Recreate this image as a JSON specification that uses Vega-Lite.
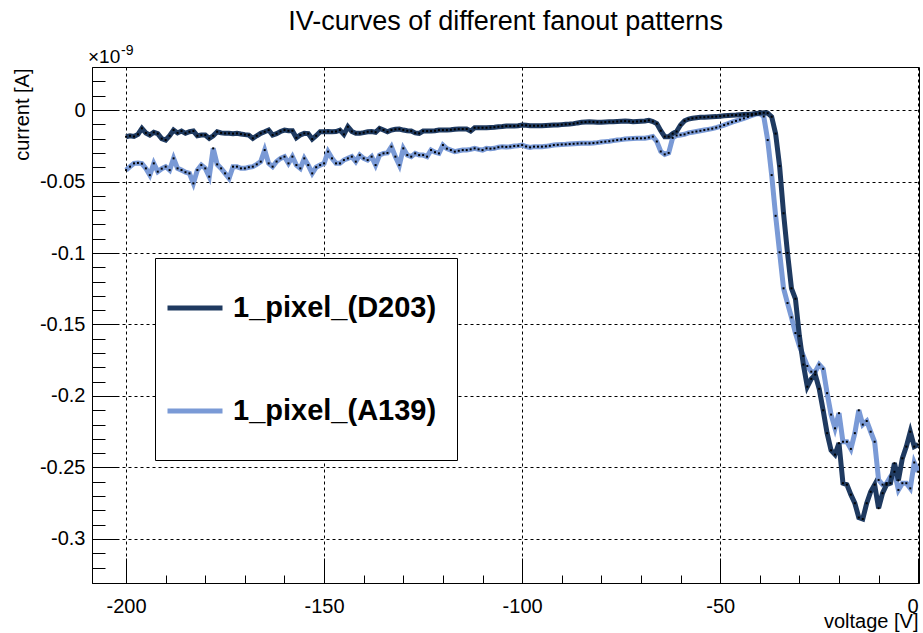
{
  "$schema": "https://vega.github.io/schema/vega-lite/v6.json",
  "width": 827,
  "height": 516,
  "autosize": {"type": "none"},
  "padding": {"left": 92, "top": 67, "right": 4, "bottom": 50},
  "background": "white",
  "config": {
    "view": {"stroke": "black", "strokeWidth": 1},
    "font": "Liberation Sans",
    "axis": {
      "titleFont": "Liberation Sans", "titleFontSize": 20, "titleFontWeight": "normal", "titleColor": "black",
      "labelFont": "Liberation Sans", "labelFontSize": 20, "labelColor": "black", "labelOverlap": false, "labelBound": false,
      "tickColor": "black", "tickWidth": 1, "domainColor": "black", "domainWidth": 1,
      "grid": true, "gridColor": "black", "gridDash": [3, 3], "gridWidth": 1
    }
  },
  "title": {"text": "IV-curves of different fanout patterns", "font": "Liberation Sans", "fontSize": 27, "fontWeight": "normal", "color": "black", "anchor": "middle", "offset": 8},
  "datasets": {
    "note": [{"label": "exponent"}]
  },
  "data": {"values": [
    {"v":-200,"D203":-0.0187,"A139":-0.0420},{"v":-199,"D203":-0.0180,"A139":-0.0396},{"v":-198,"D203":-0.0185,"A139":-0.0373},{"v":-197,"D203":-0.0170,"A139":-0.0370},{"v":-196,"D203":-0.0128,"A139":-0.0375},
    {"v":-195,"D203":-0.0160,"A139":-0.0408},{"v":-194,"D203":-0.0175,"A139":-0.0455},{"v":-193,"D203":-0.0156,"A139":-0.0373},{"v":-192,"D203":-0.0165,"A139":-0.0431},{"v":-191,"D203":-0.0200,"A139":-0.0410},
    {"v":-190,"D203":-0.0210,"A139":-0.0396},{"v":-189,"D203":-0.0180,"A139":-0.0420},{"v":-188,"D203":-0.0140,"A139":-0.0338},{"v":-187,"D203":-0.0160,"A139":-0.0408},{"v":-186,"D203":-0.0147,"A139":-0.0420},
    {"v":-185,"D203":-0.0163,"A139":-0.0435},{"v":-184,"D203":-0.0152,"A139":-0.0443},{"v":-183,"D203":-0.0147,"A139":-0.0513},{"v":-182,"D203":-0.0180,"A139":-0.0420},{"v":-181,"D203":-0.0175,"A139":-0.0385},
    {"v":-180,"D203":-0.0175,"A139":-0.0408},{"v":-179,"D203":-0.0198,"A139":-0.0466},{"v":-178,"D203":-0.0180,"A139":-0.0268},{"v":-177,"D203":-0.0152,"A139":-0.0380},{"v":-176,"D203":-0.0160,"A139":-0.0408},
    {"v":-175,"D203":-0.0163,"A139":-0.0443},{"v":-174,"D203":-0.0163,"A139":-0.0478},{"v":-173,"D203":-0.0165,"A139":-0.0396},{"v":-172,"D203":-0.0163,"A139":-0.0396},{"v":-171,"D203":-0.0168,"A139":-0.0408},
    {"v":-170,"D203":-0.0172,"A139":-0.0408},{"v":-169,"D203":-0.0175,"A139":-0.0400},{"v":-168,"D203":-0.0198,"A139":-0.0396},{"v":-167,"D203":-0.0180,"A139":-0.0380},{"v":-166,"D203":-0.0163,"A139":-0.0361},
    {"v":-165,"D203":-0.0152,"A139":-0.0280},{"v":-164,"D203":-0.0140,"A139":-0.0373},{"v":-163,"D203":-0.0175,"A139":-0.0396},{"v":-162,"D203":-0.0165,"A139":-0.0360},{"v":-161,"D203":-0.0150,"A139":-0.0338},
    {"v":-160,"D203":-0.0140,"A139":-0.0326},{"v":-159,"D203":-0.0145,"A139":-0.0373},{"v":-158,"D203":-0.0145,"A139":-0.0326},{"v":-157,"D203":-0.0194,"A139":-0.0385},{"v":-156,"D203":-0.0175,"A139":-0.0408},
    {"v":-155,"D203":-0.0163,"A139":-0.0338},{"v":-154,"D203":-0.0165,"A139":-0.0385},{"v":-153,"D203":-0.0203,"A139":-0.0443},{"v":-152,"D203":-0.0180,"A139":-0.0400},{"v":-151,"D203":-0.0152,"A139":-0.0385},
    {"v":-150,"D203":-0.0152,"A139":-0.0373},{"v":-149,"D203":-0.0150,"A139":-0.0291},{"v":-148,"D203":-0.0152,"A139":-0.0338},{"v":-147,"D203":-0.0150,"A139":-0.0373},{"v":-146,"D203":-0.0140,"A139":-0.0373},
    {"v":-145,"D203":-0.0170,"A139":-0.0350},{"v":-144,"D203":-0.0117,"A139":-0.0338},{"v":-143,"D203":-0.0150,"A139":-0.0326},{"v":-142,"D203":-0.0163,"A139":-0.0361},{"v":-141,"D203":-0.0163,"A139":-0.0315},
    {"v":-140,"D203":-0.0158,"A139":-0.0338},{"v":-139,"D203":-0.0152,"A139":-0.0350},{"v":-138,"D203":-0.0150,"A139":-0.0326},{"v":-137,"D203":-0.0155,"A139":-0.0385},{"v":-136,"D203":-0.0128,"A139":-0.0315},
    {"v":-135,"D203":-0.0140,"A139":-0.0303},{"v":-134,"D203":-0.0152,"A139":-0.0300},{"v":-133,"D203":-0.0140,"A139":-0.0256},{"v":-132,"D203":-0.0135,"A139":-0.0326},{"v":-131,"D203":-0.0133,"A139":-0.0385},
    {"v":-130,"D203":-0.0140,"A139":-0.0268},{"v":-129,"D203":-0.0145,"A139":-0.0315},{"v":-128,"D203":-0.0147,"A139":-0.0326},{"v":-127,"D203":-0.0160,"A139":-0.0303},{"v":-126,"D203":-0.0163,"A139":-0.0315},
    {"v":-125,"D203":-0.0147,"A139":-0.0315},{"v":-124,"D203":-0.0147,"A139":-0.0326},{"v":-123,"D203":-0.0147,"A139":-0.0280},{"v":-122,"D203":-0.0145,"A139":-0.0295},{"v":-121,"D203":-0.0140,"A139":-0.0303},
    {"v":-120,"D203":-0.0140,"A139":-0.0245},{"v":-119,"D203":-0.0140,"A139":-0.0270},{"v":-118,"D203":-0.0138,"A139":-0.0280},{"v":-117,"D203":-0.0135,"A139":-0.0291},{"v":-116,"D203":-0.0133,"A139":-0.0285},
    {"v":-115,"D203":-0.0133,"A139":-0.0280},{"v":-114,"D203":-0.0133,"A139":-0.0280},{"v":-113,"D203":-0.0147,"A139":-0.0275},{"v":-112,"D203":-0.0124,"A139":-0.0268},{"v":-111,"D203":-0.0124,"A139":-0.0275},
    {"v":-110,"D203":-0.0124,"A139":-0.0280},{"v":-109,"D203":-0.0124,"A139":-0.0268},{"v":-108,"D203":-0.0122,"A139":-0.0270},{"v":-107,"D203":-0.0120,"A139":-0.0268},{"v":-106,"D203":-0.0117,"A139":-0.0260},
    {"v":-105,"D203":-0.0115,"A139":-0.0256},{"v":-104,"D203":-0.0112,"A139":-0.0258},{"v":-103,"D203":-0.0112,"A139":-0.0256},{"v":-102,"D203":-0.0112,"A139":-0.0252},{"v":-101,"D203":-0.0110,"A139":-0.0250},
    {"v":-100,"D203":-0.0105,"A139":-0.0245},{"v":-99,"D203":-0.0107,"A139":-0.0255},{"v":-98,"D203":-0.0110,"A139":-0.0261},{"v":-97,"D203":-0.0110,"A139":-0.0256},{"v":-96,"D203":-0.0110,"A139":-0.0256},
    {"v":-95,"D203":-0.0110,"A139":-0.0256},{"v":-94,"D203":-0.0108,"A139":-0.0254},{"v":-93,"D203":-0.0106,"A139":-0.0250},{"v":-92,"D203":-0.0105,"A139":-0.0245},{"v":-91,"D203":-0.0104,"A139":-0.0243},
    {"v":-90,"D203":-0.0102,"A139":-0.0241},{"v":-89,"D203":-0.0100,"A139":-0.0240},{"v":-88,"D203":-0.0098,"A139":-0.0238},{"v":-87,"D203":-0.0095,"A139":-0.0236},{"v":-86,"D203":-0.0090,"A139":-0.0234},
    {"v":-85,"D203":-0.0086,"A139":-0.0233},{"v":-84,"D203":-0.0084,"A139":-0.0233},{"v":-83,"D203":-0.0082,"A139":-0.0233},{"v":-82,"D203":-0.0083,"A139":-0.0231},{"v":-81,"D203":-0.0085,"A139":-0.0228},
    {"v":-80,"D203":-0.0086,"A139":-0.0224},{"v":-79,"D203":-0.0084,"A139":-0.0221},{"v":-78,"D203":-0.0082,"A139":-0.0218},{"v":-77,"D203":-0.0082,"A139":-0.0214},{"v":-76,"D203":-0.0080,"A139":-0.0210},
    {"v":-75,"D203":-0.0078,"A139":-0.0207},{"v":-74,"D203":-0.0077,"A139":-0.0203},{"v":-73,"D203":-0.0079,"A139":-0.0201},{"v":-72,"D203":-0.0082,"A139":-0.0199},{"v":-71,"D203":-0.0080,"A139":-0.0198},
    {"v":-70,"D203":-0.0078,"A139":-0.0198},{"v":-69,"D203":-0.0077,"A139":-0.0197},{"v":-68,"D203":-0.0072,"A139":-0.0192},{"v":-67,"D203":-0.0080,"A139":-0.0186},{"v":-66,"D203":-0.0095,"A139":-0.0220},
    {"v":-65,"D203":-0.0145,"A139":-0.0290},{"v":-64,"D203":-0.0186,"A139":-0.0310},{"v":-63,"D203":-0.0186,"A139":-0.0300},{"v":-62,"D203":-0.0165,"A139":-0.0195},{"v":-61,"D203":-0.0150,"A139":-0.0178},
    {"v":-60,"D203":-0.0105,"A139":-0.0174},{"v":-59,"D203":-0.0075,"A139":-0.0170},{"v":-58,"D203":-0.0063,"A139":-0.0160},{"v":-57,"D203":-0.0058,"A139":-0.0155},{"v":-56,"D203":-0.0054,"A139":-0.0150},
    {"v":-55,"D203":-0.0051,"A139":-0.0145},{"v":-54,"D203":-0.0050,"A139":-0.0140},{"v":-53,"D203":-0.0048,"A139":-0.0135},{"v":-52,"D203":-0.0047,"A139":-0.0130},{"v":-51,"D203":-0.0046,"A139":-0.0123},
    {"v":-50,"D203":-0.0043,"A139":-0.0115},{"v":-49,"D203":-0.0040,"A139":-0.0105},{"v":-48,"D203":-0.0038,"A139":-0.0095},{"v":-47,"D203":-0.0036,"A139":-0.0085},{"v":-46,"D203":-0.0035,"A139":-0.0076},
    {"v":-45,"D203":-0.0033,"A139":-0.0067},{"v":-44,"D203":-0.0031,"A139":-0.0058},{"v":-43,"D203":-0.0029,"A139":-0.0048},{"v":-42,"D203":-0.0028,"A139":-0.0038},{"v":-41,"D203":-0.0025,"A139":-0.0028},
    {"v":-40,"D203":-0.0022,"A139":-0.0024},{"v":-39,"D203":-0.0019,"A139":-0.0045},{"v":-38,"D203":-0.0022,"A139":-0.0210},{"v":-37,"D203":-0.0047,"A139":-0.0455},{"v":-36,"D203":-0.0165,"A139":-0.0740},
    {"v":-35,"D203":-0.0392,"A139":-0.0995},{"v":-34,"D203":-0.0722,"A139":-0.1247},{"v":-33,"D203":-0.1000,"A139":-0.1350},{"v":-32,"D203":-0.1247,"A139":-0.1450},{"v":-31,"D203":-0.1320,"A139":-0.1560},
    {"v":-30,"D203":-0.1580,"A139":-0.1650},{"v":-29,"D203":-0.1780,"A139":-0.1720},{"v":-28,"D203":-0.1935,"A139":-0.1790},{"v":-27,"D203":-0.1880,"A139":-0.1830},{"v":-26,"D203":-0.1850,"A139":-0.1830},
    {"v":-25,"D203":-0.1950,"A139":-0.1780},{"v":-24,"D203":-0.2100,"A139":-0.1810},{"v":-23,"D203":-0.2260,"A139":-0.1980},{"v":-22,"D203":-0.2380,"A139":-0.2130},{"v":-21,"D203":-0.2410,"A139":-0.2226},
    {"v":-20,"D203":-0.2330,"A139":-0.2120},{"v":-19,"D203":-0.2610,"A139":-0.2320},{"v":-18,"D203":-0.2620,"A139":-0.2320},{"v":-17,"D203":-0.2690,"A139":-0.2370},{"v":-16,"D203":-0.2750,"A139":-0.2260},
    {"v":-15,"D203":-0.2850,"A139":-0.2100},{"v":-14,"D203":-0.2860,"A139":-0.2200},{"v":-13,"D203":-0.2750,"A139":-0.2175},{"v":-12,"D203":-0.2670,"A139":-0.2250},{"v":-11,"D203":-0.2620,"A139":-0.2320},
    {"v":-10,"D203":-0.2785,"A139":-0.2587},{"v":-9,"D203":-0.2680,"A139":-0.2620},{"v":-8,"D203":-0.2620,"A139":-0.2610},{"v":-7,"D203":-0.2610,"A139":-0.2564},{"v":-6,"D203":-0.2470,"A139":-0.2530},
    {"v":-5,"D203":-0.2590,"A139":-0.2657},{"v":-4,"D203":-0.2436,"A139":-0.2610},{"v":-3,"D203":-0.2354,"A139":-0.2610},{"v":-2,"D203":-0.2250,"A139":-0.2646},{"v":-1,"D203":-0.2354,"A139":-0.2465},
    {"v":0,"D203":-0.2340,"A139":-0.2530}
  ]},
  "layer": [
    {
      "transform": [{"fold": ["A139", "D203"], "as": ["s", "i"]}],
      "mark": {"type": "line", "strokeWidth": 5, "clip": true},
      "encoding": {
        "x": {"field": "v", "type": "quantitative", "scale": {"domain": [-208.6, 0.2], "nice": false, "zero": false},
          "axis": {"title": "voltage [V]", "titleAlign": "right", "titleBaseline": "alphabetic", "titleX": 826, "titleY": 44, "titleAngle": 0,
            "values": [-200,-190,-180,-170,-160,-150,-140,-130,-120,-110,-100,-90,-80,-70,-60,-50,-40,-30,-20,-10,0],
            "labelExpr": "datum.value % 50 == 0 ? toString(datum.value) : ''", "labelPadding": 38.5, "labelFlush": 4,
            "tickSize": {"condition": {"test": "datum.value % 50 == 0", "value": -25}, "value": -8},
            "gridOpacity": {"condition": {"test": "datum.value % 50 == 0", "value": 1}, "value": 0}}},
        "y": {"field": "i", "type": "quantitative", "scale": {"domain": [-0.3308, 0.0301], "nice": false, "zero": false},
          "axis": {"title": "current [A]", "titleAngle": -90, "titleAlign": "right", "titleBaseline": "alphabetic", "titleX": -64, "titleY": 1,
            "values": [0.02,0.01,0,-0.01,-0.02,-0.03,-0.04,-0.05,-0.06,-0.07,-0.08,-0.09,-0.1,-0.11,-0.12,-0.13,-0.14,-0.15,-0.16,-0.17,-0.18,-0.19,-0.2,-0.21,-0.22,-0.23,-0.24,-0.25,-0.26,-0.27,-0.28,-0.29,-0.3,-0.31,-0.32],
            "labelExpr": "abs(round(datum.value*100)) % 5 == 0 ? toString(round(datum.value*100)/100) : ''", "labelPadding": 32, "labelFlush": false,
            "tickSize": {"condition": {"test": "abs(round(datum.value*100)) % 5 == 0", "value": -25}, "value": -13},
            "gridOpacity": {"condition": {"test": "abs(round(datum.value*100)) % 5 == 0", "value": 1}, "value": 0}}},
        "color": {"field": "s", "type": "nominal",
          "scale": {"domain": ["D203", "A139"], "range": ["#1f3a60", "#7a9ad6"]},
          "legend": {
            "orient": "none", "legendX": 63, "legendY": 191, "title": null,
            "strokeColor": "black", "fillColor": "white", "padding": 20,
            "symbolType": "M-1,0H1M0,0.69", "symbolSize": 3025, "symbolStrokeWidth": 5, "symbolOffset": -10,
            "labelFont": "Liberation Sans", "labelFontSize": 29, "labelFontWeight": "bold", "labelColor": "black",
            "labelOffset": 8, "labelLimit": 600, "rowPadding": 44,
            "labelExpr": "'1_pixel_(' + datum.label + ')'"
          }}
      }
    },
    {
      "transform": [{"fold": ["A139", "D203"], "as": ["s", "i"]}],
      "mark": {"type": "square", "size": 4, "color": "black", "opacity": 1, "clip": true},
      "encoding": {
        "x": {"field": "v", "type": "quantitative", "scale": {"domain": [-208.6, 0.2], "nice": false, "zero": false},
          "axis": {"title": "voltage [V]", "titleAlign": "right", "titleBaseline": "alphabetic", "titleX": 826, "titleY": 44, "titleAngle": 0,
            "values": [-200,-190,-180,-170,-160,-150,-140,-130,-120,-110,-100,-90,-80,-70,-60,-50,-40,-30,-20,-10,0],
            "labelExpr": "datum.value % 50 == 0 ? toString(datum.value) : ''", "labelPadding": 38.5, "labelFlush": 4,
            "tickSize": {"condition": {"test": "datum.value % 50 == 0", "value": -25}, "value": -8},
            "gridOpacity": {"condition": {"test": "datum.value % 50 == 0", "value": 1}, "value": 0}}},
        "y": {"field": "i", "type": "quantitative", "scale": {"domain": [-0.3308, 0.0301], "nice": false, "zero": false},
          "axis": {"title": "current [A]", "titleAngle": -90, "titleAlign": "right", "titleBaseline": "alphabetic", "titleX": -64, "titleY": 1,
            "values": [0.02,0.01,0,-0.01,-0.02,-0.03,-0.04,-0.05,-0.06,-0.07,-0.08,-0.09,-0.1,-0.11,-0.12,-0.13,-0.14,-0.15,-0.16,-0.17,-0.18,-0.19,-0.2,-0.21,-0.22,-0.23,-0.24,-0.25,-0.26,-0.27,-0.28,-0.29,-0.3,-0.31,-0.32],
            "labelExpr": "abs(round(datum.value*100)) % 5 == 0 ? toString(round(datum.value*100)/100) : ''", "labelPadding": 32, "labelFlush": false,
            "tickSize": {"condition": {"test": "abs(round(datum.value*100)) % 5 == 0", "value": -25}, "value": -13},
            "gridOpacity": {"condition": {"test": "abs(round(datum.value*100)) % 5 == 0", "value": 1}, "value": 0}}}
      }
    },
    {
      "data": {"name": "note"},
      "mark": {"type": "text", "font": "Liberation Sans", "fontSize": 19, "fill": "black", "align": "left", "baseline": "alphabetic", "dx": -4, "dy": -4},
      "encoding": {
        "x": {"datum": -208.6, "type": "quantitative", "scale": {"domain": [-208.6, 0.2], "nice": false, "zero": false},
          "axis": {"title": "voltage [V]", "titleAlign": "right", "titleBaseline": "alphabetic", "titleX": 826, "titleY": 44, "titleAngle": 0,
            "values": [-200,-190,-180,-170,-160,-150,-140,-130,-120,-110,-100,-90,-80,-70,-60,-50,-40,-30,-20,-10,0],
            "labelExpr": "datum.value % 50 == 0 ? toString(datum.value) : ''", "labelPadding": 38.5, "labelFlush": 4,
            "tickSize": {"condition": {"test": "datum.value % 50 == 0", "value": -25}, "value": -8},
            "gridOpacity": {"condition": {"test": "datum.value % 50 == 0", "value": 1}, "value": 0}}},
        "y": {"datum": 0.0301, "type": "quantitative", "scale": {"domain": [-0.3308, 0.0301], "nice": false, "zero": false},
          "axis": {"title": "current [A]", "titleAngle": -90, "titleAlign": "right", "titleBaseline": "alphabetic", "titleX": -64, "titleY": 1,
            "values": [0.02,0.01,0,-0.01,-0.02,-0.03,-0.04,-0.05,-0.06,-0.07,-0.08,-0.09,-0.1,-0.11,-0.12,-0.13,-0.14,-0.15,-0.16,-0.17,-0.18,-0.19,-0.2,-0.21,-0.22,-0.23,-0.24,-0.25,-0.26,-0.27,-0.28,-0.29,-0.3,-0.31,-0.32],
            "labelExpr": "abs(round(datum.value*100)) % 5 == 0 ? toString(round(datum.value*100)/100) : ''", "labelPadding": 32, "labelFlush": false,
            "tickSize": {"condition": {"test": "abs(round(datum.value*100)) % 5 == 0", "value": -25}, "value": -13},
            "gridOpacity": {"condition": {"test": "abs(round(datum.value*100)) % 5 == 0", "value": 1}, "value": 0}}},
        "text": {"value": "×10"}
      }
    },
    {
      "data": {"name": "note"},
      "mark": {"type": "text", "font": "Liberation Sans", "fontSize": 14, "fill": "black", "align": "left", "baseline": "alphabetic", "dx": 29, "dy": -12},
      "encoding": {
        "x": {"datum": -208.6, "type": "quantitative", "scale": {"domain": [-208.6, 0.2], "nice": false, "zero": false},
          "axis": {"title": "voltage [V]", "titleAlign": "right", "titleBaseline": "alphabetic", "titleX": 826, "titleY": 44, "titleAngle": 0,
            "values": [-200,-190,-180,-170,-160,-150,-140,-130,-120,-110,-100,-90,-80,-70,-60,-50,-40,-30,-20,-10,0],
            "labelExpr": "datum.value % 50 == 0 ? toString(datum.value) : ''", "labelPadding": 38.5, "labelFlush": 4,
            "tickSize": {"condition": {"test": "datum.value % 50 == 0", "value": -25}, "value": -8},
            "gridOpacity": {"condition": {"test": "datum.value % 50 == 0", "value": 1}, "value": 0}}},
        "y": {"datum": 0.0301, "type": "quantitative", "scale": {"domain": [-0.3308, 0.0301], "nice": false, "zero": false},
          "axis": {"title": "current [A]", "titleAngle": -90, "titleAlign": "right", "titleBaseline": "alphabetic", "titleX": -64, "titleY": 1,
            "values": [0.02,0.01,0,-0.01,-0.02,-0.03,-0.04,-0.05,-0.06,-0.07,-0.08,-0.09,-0.1,-0.11,-0.12,-0.13,-0.14,-0.15,-0.16,-0.17,-0.18,-0.19,-0.2,-0.21,-0.22,-0.23,-0.24,-0.25,-0.26,-0.27,-0.28,-0.29,-0.3,-0.31,-0.32],
            "labelExpr": "abs(round(datum.value*100)) % 5 == 0 ? toString(round(datum.value*100)/100) : ''", "labelPadding": 32, "labelFlush": false,
            "tickSize": {"condition": {"test": "abs(round(datum.value*100)) % 5 == 0", "value": -25}, "value": -13},
            "gridOpacity": {"condition": {"test": "abs(round(datum.value*100)) % 5 == 0", "value": 1}, "value": 0}}},
        "text": {"value": "-9"}
      }
    }
  ]
}
